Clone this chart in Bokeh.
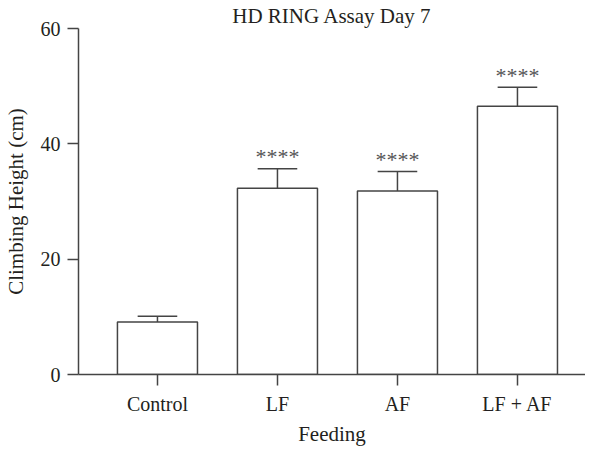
import numpy as np
from bokeh.plotting import figure
from bokeh.models import Range1d, FixedTicker, ColumnDataSource
from bokeh.core.properties import value
from bokeh.embed import file_html
from bokeh.resources import INLINE

categories = ["Control", "LF", "AF", "LF + AF"]
means = [9.1, 32.3, 31.8, 46.5]
sems = [1.0, 3.4, 3.4, 3.3]
stars = ["", "****", "****", "****"]
y_ticks = [0, 20, 40, 60]

FONT = "Liberation Serif"
TXT = "#231f20"
LINE = "#444444"

x = np.arange(len(categories))
upper = np.array(means) + np.array(sems)

src = ColumnDataSource(dict(
    x=x, top=means, upper=upper,
    cap_l=x - 0.165, cap_r=x + 0.165, stars=stars,
))

p = figure(frame_width=507, frame_height=346, output_backend="svg",
           toolbar_location=None,
           x_range=Range1d(-0.658, 3.567), y_range=Range1d(0, 60),
           min_border_left=73, min_border_right=0, min_border_top=21,
           min_border_bottom=60,
           title="HD RING Assay Day 7")
p.outline_line_color = None
p.xgrid.visible = False
p.ygrid.visible = False
p.background_fill_color = "white"

p.title.align = "center"
p.title.offset = 5
p.title.standoff = 2
p.title.text_font = FONT
p.title.text_font_size = "21px"
p.title.text_font_style = "normal"
p.title.text_color = TXT

p.vbar(x="x", top="top", bottom=0, width=0.667, source=src,
       fill_color="white", line_color=LINE, line_width=1.5)
p.segment(x0="x", y0="top", x1="x", y1="upper", source=src,
          line_color=LINE, line_width=1.5)
p.segment(x0="cap_l", y0="upper", x1="cap_r", y1="upper", source=src,
          line_color=LINE, line_width=1.5)
p.text(x="x", y="upper", text="stars", source=src, text_align="center",
       text_baseline="middle", y_offset=-12, text_font=value(FONT),
       text_font_size="22px", text_color="#555555")

# axes
p.xaxis.ticker = FixedTicker(ticks=list(x))
p.xaxis.major_label_overrides = {int(i): c for i, c in zip(x, categories)}
p.yaxis.ticker = FixedTicker(ticks=y_ticks)
for ax in (p.xaxis[0], p.yaxis[0]):
    ax.axis_line_color = LINE
    ax.axis_line_width = 1.5
    ax.major_tick_line_color = LINE
    ax.major_tick_line_width = 1.5
    ax.major_tick_out = 11
    ax.major_tick_in = 0
    ax.minor_tick_line_color = None
    ax.major_label_text_font = FONT
    ax.major_label_text_font_size = "20px"
    ax.major_label_text_color = TXT
    ax.axis_label_text_font = FONT
    ax.axis_label_text_font_size = "21px"
    ax.axis_label_text_color = TXT
    ax.axis_label_text_font_style = "normal"
    ax.major_label_standoff = 7
p.xaxis.axis_label = "Feeding"
p.yaxis.axis_label = "Climbing Height (cm)"
p.xaxis.axis_label_standoff = 4
p.yaxis.axis_label_standoff = 10

open("out.html", "w").write(file_html(p, INLINE))
